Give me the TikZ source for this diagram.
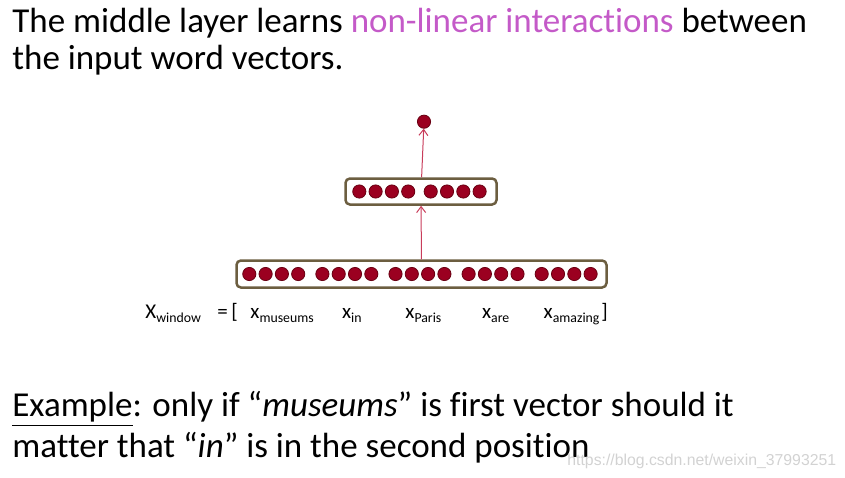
\documentclass[tikz,border=0pt]{standalone}
\usepackage{fontspec}
\setmainfont{Carlito}[Ligatures={NoCommon,NoRare}]
\newfontfamily\markfont{Liberation Sans}
\usetikzlibrary{positioning, arrows.meta}

\definecolor{unitred}{RGB}{155,0,32}
\definecolor{unitedge}{RGB}{105,0,18}
\definecolor{boxedge}{RGB}{108,94,64}
\definecolor{linkred}{RGB}{200,60,90}
\definecolor{hilite}{RGB}{196,90,200}

% word vector with subscript
\newcommand{\wvec}[2]{#1\raisebox{-2pt}{\fontsize{6.9}{8}\selectfont #2}}

\begin{document}
\begin{tikzpicture}[
	x=0.5pt, y=-0.5pt,
	neuron/.style={circle, draw=unitedge, fill=unitred, line width=0.4pt, minimum size=6.6pt, inner sep=0pt},
	layer/.style={rectangle, draw=boxedge, line width=1.25pt, rounded corners=2.2pt, inner sep=0pt},
	link/.style={->, draw=linkred, line width=0.5pt},
	words/.style={anchor=base west, inner sep=0pt, font=\fontsize{10.5}{12}\selectfont},
	slide/.style={anchor=base west, inner sep=0pt, font=\fontsize{17.5}{19}\selectfont},
	>={Straight Barb[length=3pt, width=4.5pt]},
]
	\useasboundingbox (0,0) rectangle (845,477);

	% Title
	\node[slide] (title1) at (12,32) {The middle layer learns \textcolor{hilite}{non-linear interactions} between};
	\node[slide] (title2) at (12,69) {the input word vectors.};

	% Layer boxes
	\node[layer, minimum width=185pt, minimum height=13.5pt] (inbox) at (421.5,274) {};
	\node[layer, minimum width=75.5pt, minimum height=13pt] (hidbox) at (421,191.5) {};

	% Input units (5 words x 4)
	\foreach \g in {0,...,4} {
		\foreach \i in {0,...,3} {
			\node[neuron] (in\g\i) at ({249.3+73.1*\g+16.3*\i},274) {};
		}
	}

	% Hidden units (2 x 4)
	\foreach \g in {0,1} {
		\foreach \i in {0,...,3} {
			\node[neuron] (h\g\i) at ({359.3+71.4*\g+16.3*\i},191.5) {};
		}
	}

	% Output unit
	\node[neuron] (out) at (424,121.7) {};

	% Connections
	\draw[link] (inbox) -- (hidbox);
	\draw[link] (hidbox) -- (out);

	% Window labels
	\node[words] (xwin) at (145,318) {\wvec{X}{window}};
	\node[words] (eq) at (217,318) {=};
	\node[words] (lbr) at (231,318) {[};
	\node[words] (xmus) at (250,318) {\wvec{x}{museums}};
	\node[words] (xin) at (341.7,318) {\wvec{x}{in}};
	\node[words] (xpar) at (405,318) {\wvec{x}{Paris}};
	\node[words] (xare) at (481.7,318) {\wvec{x}{are}};
	\node[words] (xama) at (543.3,318) {\wvec{x}{amazing}};
	\node[words] (rbr) at (601,318) {]};

	% Example text
	\node[slide] (ex1) at (12,416.7) {\underline{Example}: only if “\textit{museums}” is first vector should it};
	\node[slide] (ex2) at (12,457.3) {matter that “\textit{in}” is in the second position};

	% Watermark
	\node[anchor=base west, inner sep=0pt, text=gray!35, font=\markfont\fontsize{7.9}{10}\selectfont] (mark) at (567,465) {https://blog.csdn.net/weixin\_37993251};
\end{tikzpicture}
\end{document}
